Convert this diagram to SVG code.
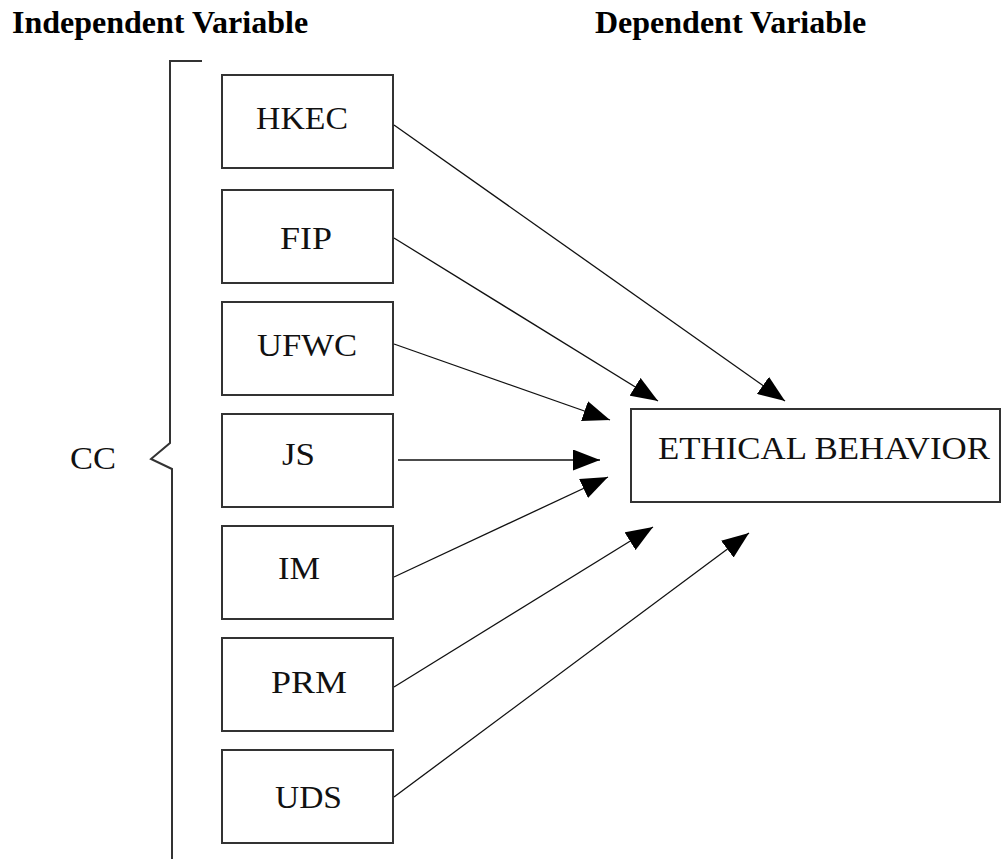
<svg xmlns="http://www.w3.org/2000/svg" width="1003" height="859" viewBox="0 0 1003 859">
  <style>
    .title { font-family: "Liberation Serif", "Times New Roman", serif; font-weight: bold; font-size: 32px; fill: #000; }
    .label { font-family: "Liberation Serif", "Times New Roman", serif; font-size: 32px; fill: #111; }
    .box { fill: #fff; stroke: #333; stroke-width: 2; }
    .brace { fill: none; stroke: #333; stroke-width: 2; }
    .link { fill: none; stroke: #111; stroke-width: 1.3; marker-end: url(#head); }
  </style>
  <defs>
    <marker id="head" markerUnits="userSpaceOnUse" viewBox="0 0 27 21" markerWidth="27" markerHeight="21" refX="27" refY="10.5" orient="auto">
      <path d="M0,0 L27,10.5 L0,21 Z" fill="#000"/>
    </marker>
  </defs>
  <rect width="1003" height="859" fill="#fff"/>

  <text class="title" x="12" y="33">Independent Variable</text>
  <text class="title" x="595" y="33">Dependent Variable</text>

  <!-- brace grouping the independent variables -->
  <g id="cc">
    <path class="brace" d="M202,61 H170 V443 L151,459 L172,469 V859"/>
    <text class="label" x="70" y="469" textLength="46" lengthAdjust="spacingAndGlyphs">CC</text>
  </g>

  <g id="hkec">
    <rect class="box" x="222" y="75" width="171" height="93"/>
    <text class="label" x="256" y="129" textLength="92" lengthAdjust="spacingAndGlyphs">HKEC</text>
  </g>
  <g id="fip">
    <rect class="box" x="222" y="190" width="171" height="93"/>
    <text class="label" x="280" y="249" textLength="52" lengthAdjust="spacingAndGlyphs">FIP</text>
  </g>
  <g id="ufwc">
    <rect class="box" x="222" y="302" width="171" height="93"/>
    <text class="label" x="257" y="356" textLength="100" lengthAdjust="spacingAndGlyphs">UFWC</text>
  </g>
  <g id="js">
    <rect class="box" x="222" y="414" width="171" height="93"/>
    <text class="label" x="282" y="465" textLength="33" lengthAdjust="spacingAndGlyphs">JS</text>
  </g>
  <g id="im">
    <rect class="box" x="222" y="526" width="171" height="93"/>
    <text class="label" x="278" y="579" textLength="42" lengthAdjust="spacingAndGlyphs">IM</text>
  </g>
  <g id="prm">
    <rect class="box" x="222" y="638" width="171" height="93"/>
    <text class="label" x="271" y="693" textLength="76" lengthAdjust="spacingAndGlyphs">PRM</text>
  </g>
  <g id="uds">
    <rect class="box" x="222" y="750" width="171" height="93"/>
    <text class="label" x="275" y="808" textLength="67" lengthAdjust="spacingAndGlyphs">UDS</text>
  </g>

  <g id="ethical-behavior">
    <rect class="box" x="631" y="409" width="369" height="93"/>
    <text class="label" x="658" y="459" textLength="332" lengthAdjust="spacingAndGlyphs">ETHICAL BEHAVIOR</text>
  </g>

  <g id="connectors">
    <line class="link" x1="394" y1="125" x2="785" y2="401"/>
    <line class="link" x1="394" y1="238" x2="658" y2="401"/>
    <line class="link" x1="394" y1="344" x2="610" y2="420"/>
    <line class="link" x1="398" y1="460" x2="600" y2="460"/>
    <line class="link" x1="394" y1="577" x2="608" y2="477"/>
    <line class="link" x1="394" y1="687" x2="653" y2="527"/>
    <line class="link" x1="394" y1="797" x2="749" y2="533"/>
  </g>
</svg>
